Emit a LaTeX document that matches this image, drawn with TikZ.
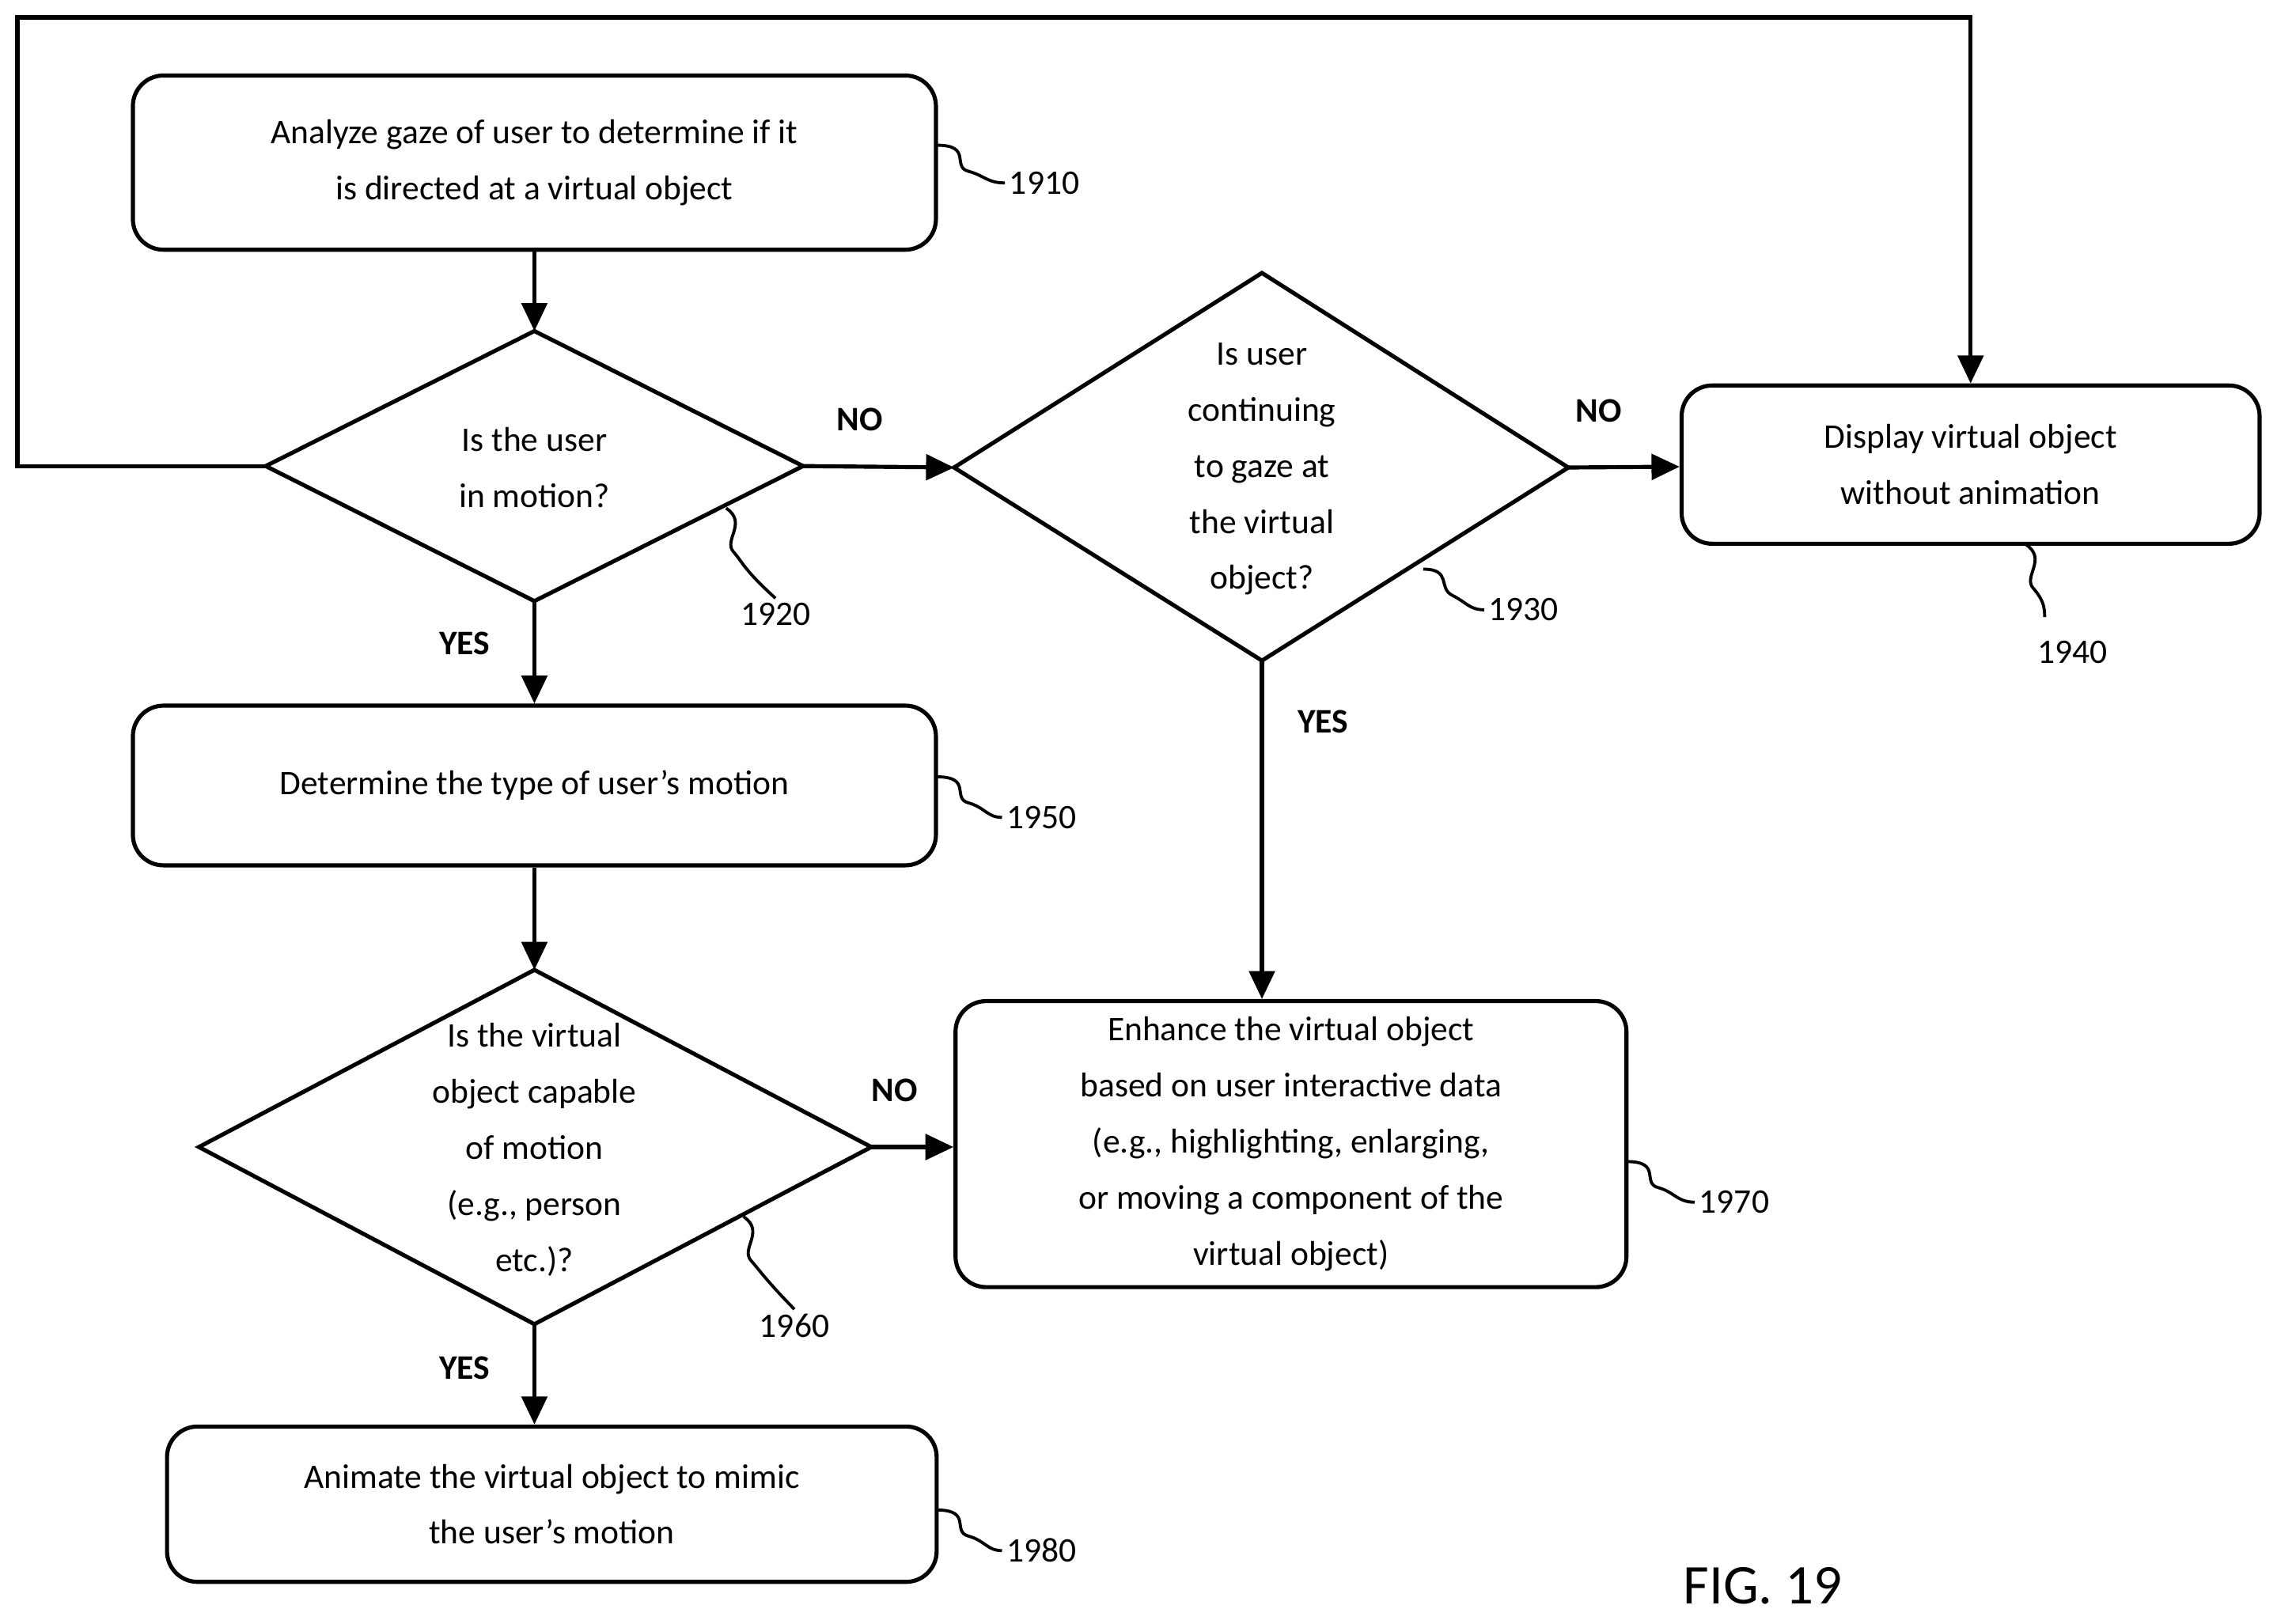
\documentclass[tikz,border=0pt]{standalone}
\usepackage{fontspec}
\setmainfont{Carlito}
\usetikzlibrary{arrows.meta}
\begin{document}
\begin{tikzpicture}[x=0.02cm,y=-0.02cm,
  line width=1.6pt,
  every node/.style={font=\fontsize{13.5}{22}\selectfont},
  box/.style={draw,rounded corners=12pt,align=center,inner sep=0pt},
  txt/.style={align=center,inner sep=0pt},
  arr/.style={-{Triangle[length=11pt,width=10pt]}},
  lbl/.style={font=\fontsize{13.5}{16}\selectfont\bfseries},
  sq/.style={line width=1.2pt},
  ref/.style={inner sep=1pt}]
\useasboundingbox (0,0) rectangle (1568,1118);
% boxes
\node[box,minimum width=553*0.02cm,minimum height=120*0.02cm] (b1910) at (368,112) {Analyze gaze of user to determine if it\\is directed at a virtual object};
\node[box,minimum width=398*0.02cm,minimum height=109*0.02cm] (b1940) at (1357,320) {Display virtual object\\without animation};
\node[box,minimum width=553*0.02cm,minimum height=110*0.02cm] (b1950) at (368,541) {Determine the type of user's motion};
\node[box,minimum width=462*0.02cm,minimum height=197*0.02cm] (b1970) at (889,788) {Enhance the virtual object\\based on user interactive data\\(e.g., highlighting, enlarging,\\or moving a component of the\\virtual object)};
\node[box,minimum width=530*0.02cm,minimum height=107*0.02cm] (b1980) at (380,1036) {Animate the virtual object to mimic\\the user's motion};
% diamonds
\coordinate (d1t) at (368,228); \coordinate (d1r) at (553,321); \coordinate (d1b) at (368,414); \coordinate (d1l) at (183,321);
\draw (d1t)--(d1r)--(d1b)--(d1l)--cycle;
\node[txt] (t1920) at (368,322) {Is the user\\in motion?};
\coordinate (d2t) at (869,188); \coordinate (d2r) at (1080,322); \coordinate (d2b) at (869,455); \coordinate (d2l) at (657,322);
\draw (d2t)--(d2r)--(d2b)--(d2l)--cycle;
\node[txt] (t1930) at (869,323) {Is user\\continuing\\to gaze at\\the virtual\\object?};
\coordinate (d3t) at (368,668); \coordinate (d3r) at (600,790); \coordinate (d3b) at (368,912); \coordinate (d3l) at (137,790);
\draw (d3t)--(d3r)--(d3b)--(d3l)--cycle;
\node[txt] (t1960) at (368,792) {Is the virtual\\object capable\\of motion\\(e.g., person\\etc.)?};
% connectors
\draw[arr] (b1910) -- (d1t);
\draw[arr] (d1r) -- (d2l);
\draw[arr] (d2r) -- (b1940);
\draw[arr] (d2b) -- (d2b |- b1970.north);
\draw[arr] (d1b) -- (b1950);
\draw[arr] (b1950) -- (d3t);
\draw[arr] (d3r) -- (d3r -| b1970.west);
\draw[arr] (d3b) -- (b1980.north -| d3b);
\coordinate (c1) at (12,321); \coordinate (c2) at (12,12); \coordinate (c3) at (1357,12);
\draw[arr] (d1l) -- (c1) -- (c2) -- (c3) -- (b1940.north);
% yes/no
\node[lbl] (n1) at (592,289) {NO};
\node[lbl] (n2) at (1101,283) {NO};
\node[lbl] (n3) at (616,751) {NO};
\node[lbl] (y1) at (320,443) {YES};
\node[lbl] (y2) at (911,497) {YES};
\node[lbl] (y3) at (320,942) {YES};
% reference numbers
\node[ref,anchor=west] (r1910) at (692,126) {1910};
\node[ref] (r1920) at (534,423) {1920};
\node[ref,anchor=west] (r1930) at (1022,420) {1930};
\node[ref] (r1940) at (1427,449) {1940};
\node[ref,anchor=west] (r1950) at (690,563) {1950};
\node[ref] (r1960) at (547,913) {1960};
\node[ref,anchor=west] (r1970) at (1167,828) {1970};
\node[ref,anchor=west] (r1980) at (690,1068) {1980};
\node[font=\fontsize{22}{26}\selectfont] (fig) at (1214,1092) {FIG. 19};
% squiggles
\draw[sq] (645,100) .. controls (670,100) and (655,115) .. (667,118) .. controls (678,121) and (680,126) .. (r1910.west);
\draw[sq] (645,535) .. controls (670,535) and (655,550) .. (667,553) .. controls (678,556) and (680,563) .. (r1950.west);
\draw[sq] (645,1040) .. controls (670,1040) and (655,1055) .. (667,1058) .. controls (678,1061) and (680,1068) .. (r1980.west);
\draw[sq] (1120,800) .. controls (1145,800) and (1130,815) .. (1142,818) .. controls (1153,821) and (1155,828) .. (r1970.west);
\draw[sq] (980,392) .. controls (1000,392) and (990,405) .. (1000,410) .. controls (1010,415) and (1012,420) .. (r1930.west);
\draw[sq] (500,350) .. controls (515,360) and (498,372) .. (505,380) .. controls (512,388) and (512,392) .. (r1920.north);
\draw[sq] (512,838) .. controls (527,848) and (510,860) .. (517,868) .. controls (524,876) and (526,880) .. (r1960.north);
\draw[sq] (1395,375) .. controls (1410,385) and (1393,397) .. (1400,405) .. controls (1407,413) and (1408,418) .. (1408,425);
\end{tikzpicture}
\end{document}
